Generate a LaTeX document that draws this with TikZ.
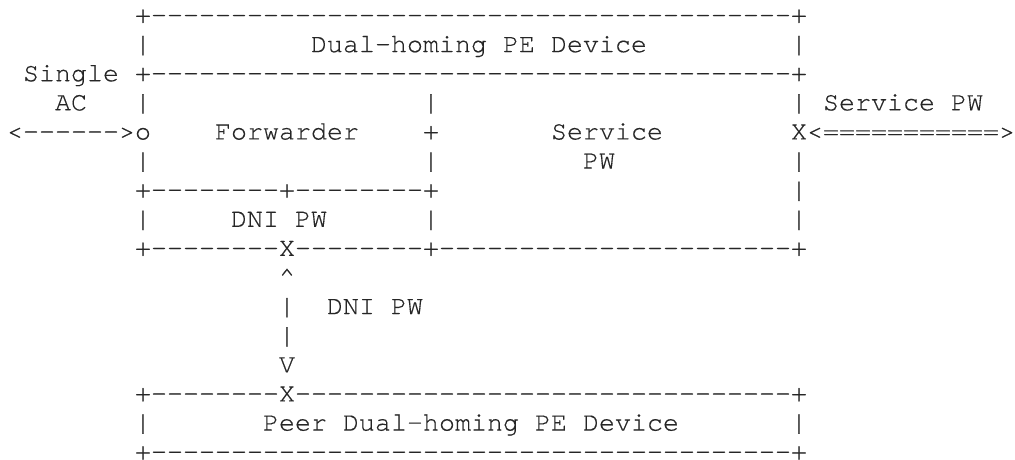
\documentclass[tikz,border=0pt]{standalone}
\usepackage{fontspec}
\newfontfamily\asciifont{TeX Gyre Cursor}[FakeBold=0.35]
\usepackage{tikz}
\usetikzlibrary{positioning}

\begin{document}
\begin{tikzpicture}[
  x=8pt, y=-14.556pt,
  %--- one column = one character cell, one row = one text line ---
  ascii/.style={inner sep=0pt, outer sep=0pt, anchor=base west, text=black!85,
                font=\asciifont\fontsize{13.333}{14}\selectfont},
]
\useasboundingbox (-0.4375,-0.79) rectangle (63,14.983);

%==================== dual-homing PE device ====================
\node[ascii] (peTop)   at (8,0) {+----------------------------------------+};
\node[ascii] (peL1)    at (8,1) {|};
\node[ascii] (peTitle) at (19,1) {Dual-homing PE Device};
\node[ascii] (peR1)    at (49,1) {|};
\node[ascii] (acSingle) at (1,2) {Single};
\node[ascii] (peMid)   at (8,2) {+----------------------------------------+};

\node[ascii] (acAC)    at (3,3) {AC};
\node[ascii] (peL3)    at (8,3) {|};
\node[ascii] (fwR3)    at (26,3) {|};
\node[ascii] (peR3)    at (49,3) {|};
\node[ascii] (spwLabel) at (51,3) {Service PW};

\node[ascii] (acLink)  at (0,4) {<------>o};
\node[ascii] (fwName)  at (13,4) {Forwarder};
\node[ascii] (fwPlus)  at (26,4) {+};
\node[ascii] (spwName) at (34,4) {Service};
\node[ascii] (spwLink) at (49,4) {X<===========>};

\node[ascii] (peL5)    at (8,5) {|};
\node[ascii] (fwR5)    at (26,5) {|};
\node[ascii] (spwPW)   at (36,5) {PW};
\node[ascii] (peR5)    at (49,5) {|};

\node[ascii] (dniTop)  at (8,6) {+--------+--------+};
\node[ascii] (peR6)    at (49,6) {|};

\node[ascii] (peL7)    at (8,7) {|};
\node[ascii] (dniName) at (14,7) {DNI PW};
\node[ascii] (dniR7)   at (26,7) {|};
\node[ascii] (peR7)    at (49,7) {|};

\node[ascii] (peBot)   at (8,8) {+--------X--------+----------------------+};

%==================== DNI PW link ====================
\node[ascii] (dniUp)   at (17,9) {\textasciicircum};
\node[ascii] (dniBar1) at (17,10) {|};
\node[ascii] (dniLabel) at (20,10) {DNI PW};
\node[ascii] (dniBar2) at (17,11) {|};
\node[ascii] (dniDown) at (17,12) {V};

%==================== peer PE device ====================
\node[ascii] (peerTop)   at (8,13) {+--------X-------------------------------+};
\node[ascii] (peerL)     at (8,14) {|};
\node[ascii] (peerTitle) at (16,14) {Peer Dual-homing PE Device};
\node[ascii] (peerR)     at (49,14) {|};
\node[ascii] (peerBot)   at (8,15) {+----------------------------------------+};

\end{tikzpicture}
\end{document}
